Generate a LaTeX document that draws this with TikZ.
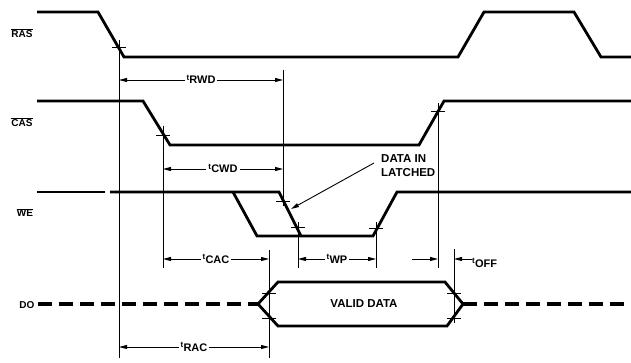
\documentclass[tikz,border=0pt]{standalone}
\usepackage{fontspec}
\setmainfont{Liberation Sans}
\usetikzlibrary{arrows.meta}
\newcommand\tlab[1]{\raisebox{3.5pt}{\fontsize{8}{8}\selectfont t}\kern0.2pt#1}
\begin{document}
\begin{tikzpicture}[x=1pt,y=-1pt,
  wave/.style={line width=2.8pt},
  thinl/.style={line width=0.9pt},
  tip/.style={-{Triangle[length=8pt,width=4pt]}},
  dim/.style={thinl,{Triangle[length=8pt,width=4pt]}-{Triangle[length=8pt,width=4pt]}},
  ddash/.style={line width=3.2pt,dash pattern=on 14pt off 7pt},
  lbl/.style={font=\fontsize{11}{11}\selectfont\bfseries,fill=white,inner sep=2pt,anchor=base,yshift=-4pt},
  sig/.style={font=\fontsize{10}{10}\selectfont\bfseries,inner sep=0pt,anchor=base}]
\useasboundingbox (0,0) rectangle (631,363);
\fill[white] (0,0) rectangle (631,363);
% signal names
\node[sig] (lras) at (22,38) {$\overline{\mbox{RAS}}$};
\node[sig] (lcas) at (22,127) {$\overline{\mbox{CAS}}$};
\node[sig] (lwe) at (25,217) {$\overline{\mbox{WE}}$};
\node[sig] (ldo) at (27,308) {DO};
% RAS
\coordinate (r0) at (37,12); \coordinate (r1) at (98,12); \coordinate (r2) at (124,57);
\coordinate (r3) at (458,57); \coordinate (r4) at (484,12); \coordinate (r5) at (574,12);
\coordinate (r6) at (601,57); \coordinate (r7) at (633,57);
\draw[wave] (r0)--(r1)--(r2)--(r3)--(r4)--(r5)--(r6)--(r7);
% CAS
\coordinate (c0) at (37,101); \coordinate (c1) at (143,101); \coordinate (c2) at (170,145);
\coordinate (c3) at (419,145); \coordinate (c4) at (444,101); \coordinate (c5) at (633,101);
\draw[wave] (c0)--(c1)--(c2)--(c3)--(c4)--(c5);
% WE
\coordinate (w0) at (37,192); \coordinate (w0b) at (105,192); \coordinate (w1) at (110,192);
\coordinate (wa) at (233,192); \coordinate (w2) at (279,192); \coordinate (w3) at (301,236);
\coordinate (wb) at (257,236); \coordinate (w4) at (373,236); \coordinate (w5) at (397,192);
\coordinate (w6) at (633,192);
\draw[wave] (w0)--(w0b);
\draw[wave] (w1)--(w2)--(w3);
\draw[wave] (wa)--(wb)--(w4)--(w5)--(w6);
% DO
\coordinate (d0) at (38,304); \coordinate (d1) at (258,304); \coordinate (d2) at (278,282);
\coordinate (d3) at (445,282); \coordinate (d4) at (463,304); \coordinate (d5) at (447,326);
\coordinate (d6) at (278,326); \coordinate (d7) at (633,304);
\draw[ddash] (d0)--(d1);
\draw[wave] (d1)--(d2)--(d3)--(d4)--(d5)--(d6)--cycle;
\draw[ddash] (d4)--(d7);
\node[font=\fontsize{11.5}{14}\selectfont\bfseries,inner sep=0pt] (valid) at (364,304) {VALID DATA};
% reference verticals
\coordinate (v119t) at (119,40);  \coordinate (v119b) at (119,358);
\coordinate (v163t) at (163,126); \coordinate (v163b) at (163,268);
\coordinate (v283t) at (283,70);  \coordinate (v283b) at (283,206);
\coordinate (v298t) at (298,222); \coordinate (v298b) at (298,268);
\coordinate (v376t) at (376,222); \coordinate (v376b) at (376,268);
\coordinate (v438t) at (438,103); \coordinate (v438b) at (438,268);
\coordinate (v269t) at (269,250); \coordinate (v269b) at (269,358);
\coordinate (v454t) at (454,249); \coordinate (v454b) at (454,323);
\foreach \v in {119,163,283,298,376,438,269,454}{\draw[thinl] (v\v t)--(v\v b);}
% ticks
\foreach \p/\q [count=\i] in {119/47,163/135,438/111,283/201,298/227,376/228,269/293,269/318,454/293,454/318}{
  \coordinate (tk\i) at (\p,\q);
  \draw[thinl] ([xshift=-7pt]tk\i) -- ([xshift=7pt]tk\i);}
% dimension lines
\coordinate (rwdA) at (119,80); \coordinate (rwdB) at (283,80);
\draw[dim] (rwdA) -- node[lbl] (trwd) {\tlab{RWD}} (rwdB);
\coordinate (cwdA) at (163,169); \coordinate (cwdB) at (283,169);
\draw[dim] (cwdA) -- node[lbl] (tcwd) {\tlab{CWD}} (cwdB);
\coordinate (cacA) at (163,259); \coordinate (cacB) at (269,259);
\draw[dim] (cacA) -- node[lbl] (tcac) {\tlab{CAC}} (cacB);
\coordinate (wpA) at (298,259); \coordinate (wpB) at (376,259);
\draw[dim] (wpA) -- node[lbl] (twp) {\tlab{WP}} (wpB);
\coordinate (racA) at (119,347); \coordinate (racB) at (269,347);
\draw[dim] (racA) -- node[lbl] (trac) {\tlab{RAC}} (racB);
\coordinate (offA) at (412,259); \coordinate (offB) at (438,259);
\draw[thinl,tip] (offA) -- (offB);
\node[lbl,anchor=base west,inner sep=0pt] (toff) at (472,263) {\tlab{OFF}};
\coordinate (offC) at (454,259);
\draw[thinl,tip] (toff.west |- offC) -- (offC);
% data in latched
\node[font=\fontsize{11.5}{14}\selectfont\bfseries,align=left,anchor=north west,inner sep=0pt] (latched) at (381,154) {DATA IN\\LATCHED};
\coordinate (latT) at (291,209);
\draw[thinl,tip] ([xshift=-7pt,yshift=-9pt]latched.north west) -- (latT);
\end{tikzpicture}
\end{document}
